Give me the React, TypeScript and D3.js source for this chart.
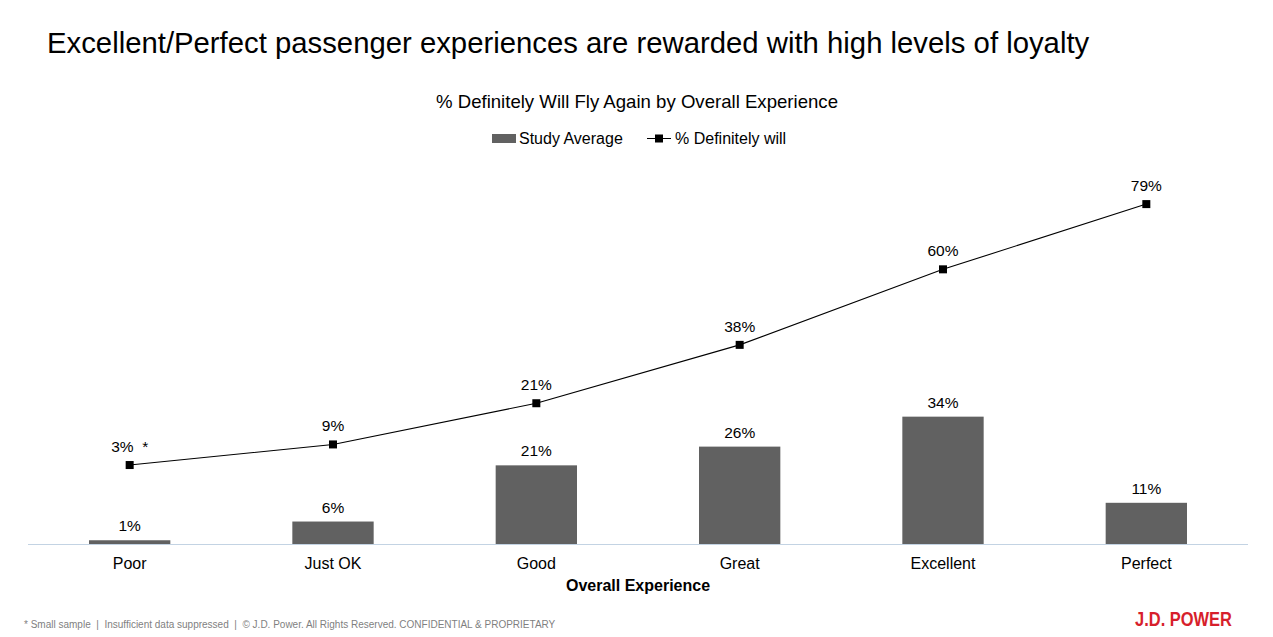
import React from 'react';
import * as d3 from 'd3';

const categories = ['Poor', 'Just OK', 'Good', 'Great', 'Excellent', 'Perfect'];
const studyAverage = [1, 6, 21, 26, 34, 11];
const definitelyWill = [3, 9, 21, 38, 60, 79];
const lineNotes = ['*', '', '', '', '', ''];

const W = 1273;
const H = 637;
const FONT = '"Liberation Sans", Arial, sans-serif';

export default function App() {
  const x = d3.scaleBand().domain(categories).range([28, 1248]).paddingInner(0.6).paddingOuter(0.3);
  const yBar = d3.scaleLinear().domain([0, 110]).range([544, 132]);
  const yLine = d3.scaleLinear().domain([-20, 100]).range([544, 132]);
  const cx = (c: string) => (x(c) || 0) + x.bandwidth() / 2;

  const line = d3.line<number>()
    .x((_, i) => cx(categories[i]))
    .y(d => yLine(d));

  return (
    <svg width={W} height={H} style={{ position: 'absolute', left: 0, top: 0, background: '#fff' }} fontFamily={FONT}>
      <text x={47} y={53} fontSize={29.3} fill="#000">
        Excellent/Perfect passenger experiences are rewarded with high levels of loyalty
      </text>
      <text x={637} y={108} fontSize={18.6} textAnchor="middle" fill="#000">
        % Definitely Will Fly Again by Overall Experience
      </text>

      {/* legend */}
      <g fontSize={16} fill="#000">
        <rect x={492} y={134} width={24} height={9} fill="#616161" />
        <text x={519} y={144}>Study Average</text>
        <line x1={647} x2={671} y1={138.5} y2={138.5} stroke="#000" strokeWidth={1} />
        <rect x={655} y={134.5} width={8} height={8} fill="#000" />
        <text x={675} y={144}>% Definitely will</text>
      </g>

      {/* bars */}
      {studyAverage.map((v, i) => (
        <g key={categories[i]}>
          <rect x={x(categories[i])} y={yBar(v)} width={x.bandwidth()} height={yBar(0) - yBar(v)} fill="#616161" />
          <text x={cx(categories[i])} y={yBar(v) - 9} fontSize={15.5} textAnchor="middle" fill="#000">{v}%</text>
        </g>
      ))}

      {/* axis */}
      <line x1={28} x2={1248} y1={544.5} y2={544.5} stroke="#c3d3e3" strokeWidth={1.2} />
      {categories.map(c => (
        <text key={c} x={cx(c)} y={569} fontSize={16} textAnchor="middle" fill="#000">{c}</text>
      ))}
      <text x={638} y={591} fontSize={16} fontWeight="bold" textAnchor="middle" fill="#000">Overall Experience</text>

      {/* line series */}
      <path d={line(definitelyWill) || ''} fill="none" stroke="#000" strokeWidth={1.1} />
      {definitelyWill.map((v, i) => (
        <g key={'m' + i}>
          <rect x={cx(categories[i]) - 4} y={yLine(v) - 4} width={8} height={8} fill="#000" />
          <text x={cx(categories[i])} y={yLine(v) - 13} fontSize={15.5} textAnchor="middle" fill="#000">
            {v}%{lineNotes[i] ? '\u00a0\u00a0' + lineNotes[i] : ''}
          </text>
        </g>
      ))}

      {/* footer */}
      <text x={24} y={628} fontSize={10} fill="#7f7f7f" style={{ whiteSpace: 'pre' }}>
        {'* Small sample  |  Insufficient data suppressed  |  © J.D. Power. All Rights Reserved. CONFIDENTIAL & PROPRIETARY'}
      </text>
      <text x={1135} y={626} fontSize={20} fontWeight="bold" fill="#d71f2c"
        textLength={97} lengthAdjust="spacingAndGlyphs">
        J.D. POWER
      </text>
    </svg>
  );
}
